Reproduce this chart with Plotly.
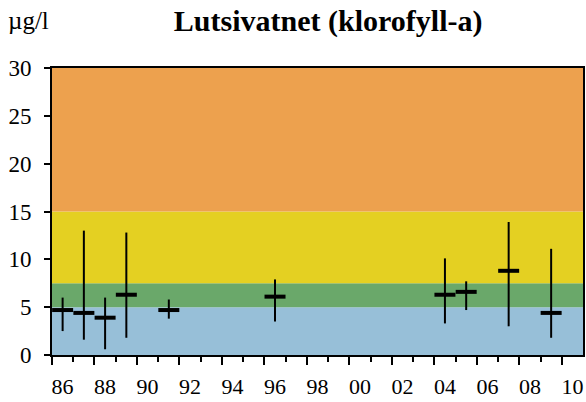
import plotly.graph_objects as go

years = [1986, 1987, 1988, 1989, 1991, 1996, 2004, 2005, 2007, 2009]
mean_vals = [4.7, 4.4, 3.9, 6.3, 4.7, 6.1, 6.3, 6.6, 8.8, 4.4]
max_vals = [6.0, 13.0, 6.0, 12.8, 5.8, 7.9, 10.1, 7.7, 13.9, 11.1]
min_vals = [2.5, 1.6, 0.6, 1.8, 3.8, 3.5, 3.3, 4.7, 3.0, 1.8]

label_years = list(range(1986, 2011, 2))
tick_labels = [str(y)[-2:] for y in label_years]
y_ticks = [0, 5, 10, 15, 20, 25, 30]

bands = [(0, 5, "#97BFD8"), (5, 7.5, "#6AA86A"), (7.5, 15, "#E4D022"), (15, 30, "#EDA14E")]

font_family = "Liberation Serif"

fig = go.Figure()
fig.add_trace(go.Scatter(
    x=years, y=mean_vals, mode="markers",
    marker=dict(symbol="line-ew", size=15, line=dict(color="black", width=4)),
    error_y=dict(type="data", symmetric=False,
                 array=[mx - m for mx, m in zip(max_vals, mean_vals)],
                 arrayminus=[m - mn for m, mn in zip(mean_vals, min_vals)],
                 color="black", thickness=2, width=0),
    showlegend=False, hoverinfo="skip"))
# invisible trace to hold label axis
fig.add_trace(go.Scatter(x=[1986], y=[0], xaxis="x2", mode="markers",
                         marker=dict(opacity=0), showlegend=False, hoverinfo="skip"))

shapes = []
for lo, hi, col in bands:
    shapes.append(dict(type="rect", xref="paper", yref="y", x0=0, x1=1, y0=lo, y1=hi,
                       fillcolor=col, line=dict(width=0), layer="below"))

fig.update_layout(
    template="none",
    width=586, height=402,
    margin=dict(l=52, r=3, t=68, b=47, autoexpand=False),
    paper_bgcolor="white", plot_bgcolor="white",
    shapes=shapes,
    font=dict(family=font_family, size=22, color="black"),
    title=dict(text="<b>Lutsivatnet (klorofyll-a)</b>", x=0.56, xanchor="center",
               y=0.95, yanchor="middle", font=dict(size=30, family=font_family)),
    annotations=[dict(text="µg/l", xref="paper", yref="paper", x=-0.087, y=1.164,
                      xanchor="left", yanchor="middle", showarrow=False,
                      font=dict(size=25, family=font_family))],
    xaxis=dict(range=[1985.5, 2010.5], showgrid=False, zeroline=False, automargin=False,
               showline=True, linecolor="black", linewidth=2, mirror=True,
               tickmode="array", tickvals=[y - 0.5 for y in label_years],
               ticks="outside", ticklen=8, tickwidth=2, tickcolor="black",
               showticklabels=False,
               minor=dict(tickmode="array", tickvals=[y + 0.5 for y in label_years[:-1]],
                          ticks="outside", ticklen=5, tickwidth=2, tickcolor="black")),
    xaxis2=dict(range=[1985.5, 2010.5], overlaying="x", anchor="y", side="bottom",
                showgrid=False, zeroline=False, showline=False, automargin=False,
                tickmode="array", tickvals=label_years, ticktext=tick_labels,
                ticks="outside", ticklen=12, tickcolor="rgba(0,0,0,0)",
                tickfont=dict(size=22, family=font_family)),
    yaxis=dict(range=[0, 30], showgrid=False, zeroline=False, automargin=False,
               showline=True, linecolor="black", linewidth=2, mirror=True,
               tickmode="array", tickvals=y_ticks,
               ticks="outside", ticklen=6, tickwidth=2, tickcolor="black",
               ticklabelstandoff=8,
               tickfont=dict(size=23, family=font_family)),
)

fig.write_html("out.html", config={"displayModeBar": False},
               post_script="document.body.style.margin='0';")
